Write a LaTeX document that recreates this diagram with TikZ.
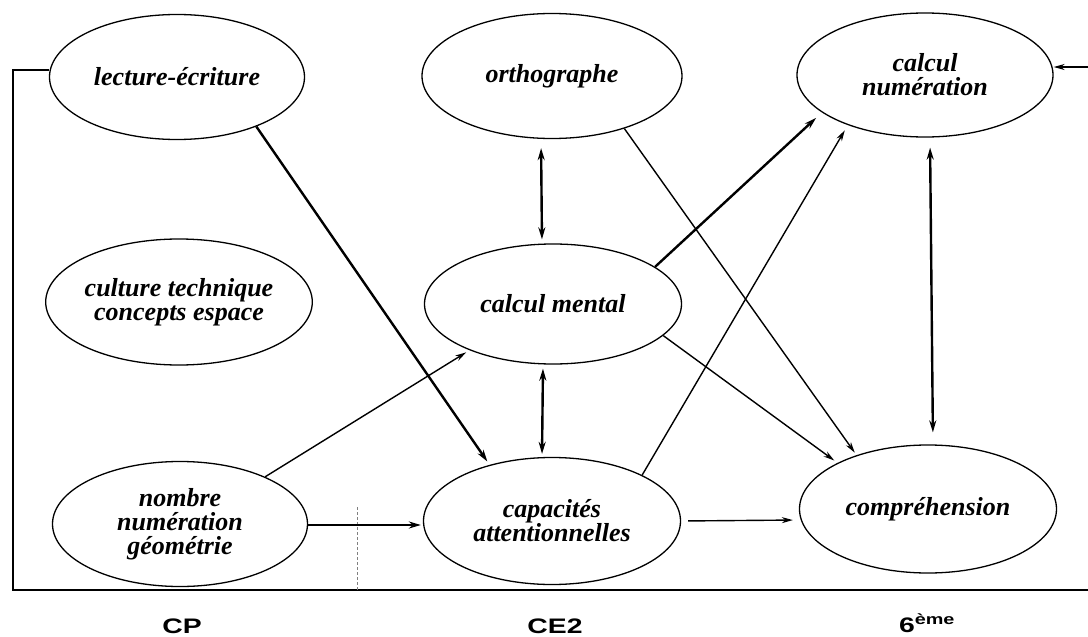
\documentclass[tikz,border=0pt]{standalone}
\usepackage{fontspec}
\setmainfont{Liberation Serif}
\newfontfamily\labfont[FakeStretch=1.35]{Liberation Sans}
\usetikzlibrary{shapes.geometric,arrows.meta}
\begin{document}
\begin{tikzpicture}[x=1pt,y=-1pt,
  bub/.style={ellipse, draw, line width=1.3pt, inner sep=0pt, align=center,
    font=\fontsize{26}{24}\selectfont\bfseries\itshape},
  thk/.style={line width=2.4pt, -{Stealth[length=12pt,width=7pt]}},
  thkb/.style={line width=2.4pt, {Stealth[length=12pt,width=7pt]}-{Stealth[length=12pt,width=7pt]}},
  thn/.style={line width=1.4pt, -{Stealth[length=11pt,width=6pt]}},
  frame/.style={line width=1.6pt},
  lab/.style={font=\labfont\bfseries\fontsize{21}{21}\selectfont, inner sep=0pt, anchor=base},
]
\useasboundingbox (0,0) rectangle (1088,637);
\fill[white] (0,0) rectangle (1088,637);

\node[bub, minimum width=255pt, minimum height=125pt] (le) at (177,77) {lecture-écriture};
\node[bub, minimum width=260pt, minimum height=125pt] (or) at (552,76) {orthographe};
\node[bub, minimum width=256pt, minimum height=124pt] (cn) at (925,75) {calcul\\numération};
\node[bub, minimum width=254pt, minimum height=126pt] (ct) at (179,302) {culture technique\\concepts espace};
\node[bub, minimum width=257pt, minimum height=120pt] (cm) at (553,304) {calcul mental};
\node[bub, minimum width=255pt, minimum height=125pt] (nb) at (180,524) {nombre\\numération\\géométrie};
\node[bub, minimum width=257pt, minimum height=127pt] (cap) at (552,521) {capacités\\attentionnelles};
\node[bub, minimum width=257pt, minimum height=128pt] (co) at (928,509) {compréhension};

% frame / loop
\coordinate (tl) at (13,70);
\coordinate (bl) at (13,590);
\coordinate (br) at (1088,590);
\coordinate (tr) at (1088,67);
\coordinate (dtop) at (357,507);
\coordinate (dbot) at (357,590);
\draw[frame] ([yshift=7pt]le.west) -- (tl) -- (bl) -- (br);
\draw[thn] (tr) -- ([yshift=8pt]cn.east);
\draw[line width=0.8pt, densely dashed, gray] (dtop) -- (dbot);

% connectors
\draw[thk, shorten >=4pt] (le.-32) -- (cap.138);
\draw[thkb, shorten <=9pt, shorten >=4pt] ([xshift=-11pt]or.south) -- ([xshift=-11pt]cm.north);
\draw[thn, shorten >=3pt] (or.-36) -- (co.143);
\draw[thk, shorten >=8pt] (cm.20) -- (cn.-160);
\draw[thn, shorten >=6pt] (cap.27) -- (cn.-147);
\draw[thkb, shorten <=10pt, shorten >=12pt] ([xshift=5pt]cn.south) -- ([xshift=5pt]co.north);
\draw[thn, shorten >=4pt] (cm.-16) -- (co.153);
\draw[thn, shorten >=4pt] (nb.29) -- (cm.-151);
\draw[thkb, shorten <=4pt, shorten >=3pt] ([xshift=-10pt]cm.south) -- ([xshift=-10pt]cap.north);
\draw[thk, shorten >=2pt] ([yshift=-1pt]nb.east) -- ([yshift=-4pt]cap.west);
\draw[thn, shorten <=7pt, shorten >=6pt] (cap.east) -- ([yshift=-11pt]co.west);

% labels
\node[lab] (lcp) at (182,633) {CP};
\node[lab] (lce) at (555,633) {CE2};
\node[lab] (l6) at (927,632) {6\textsuperscript{ème}};
\end{tikzpicture}
\end{document}
